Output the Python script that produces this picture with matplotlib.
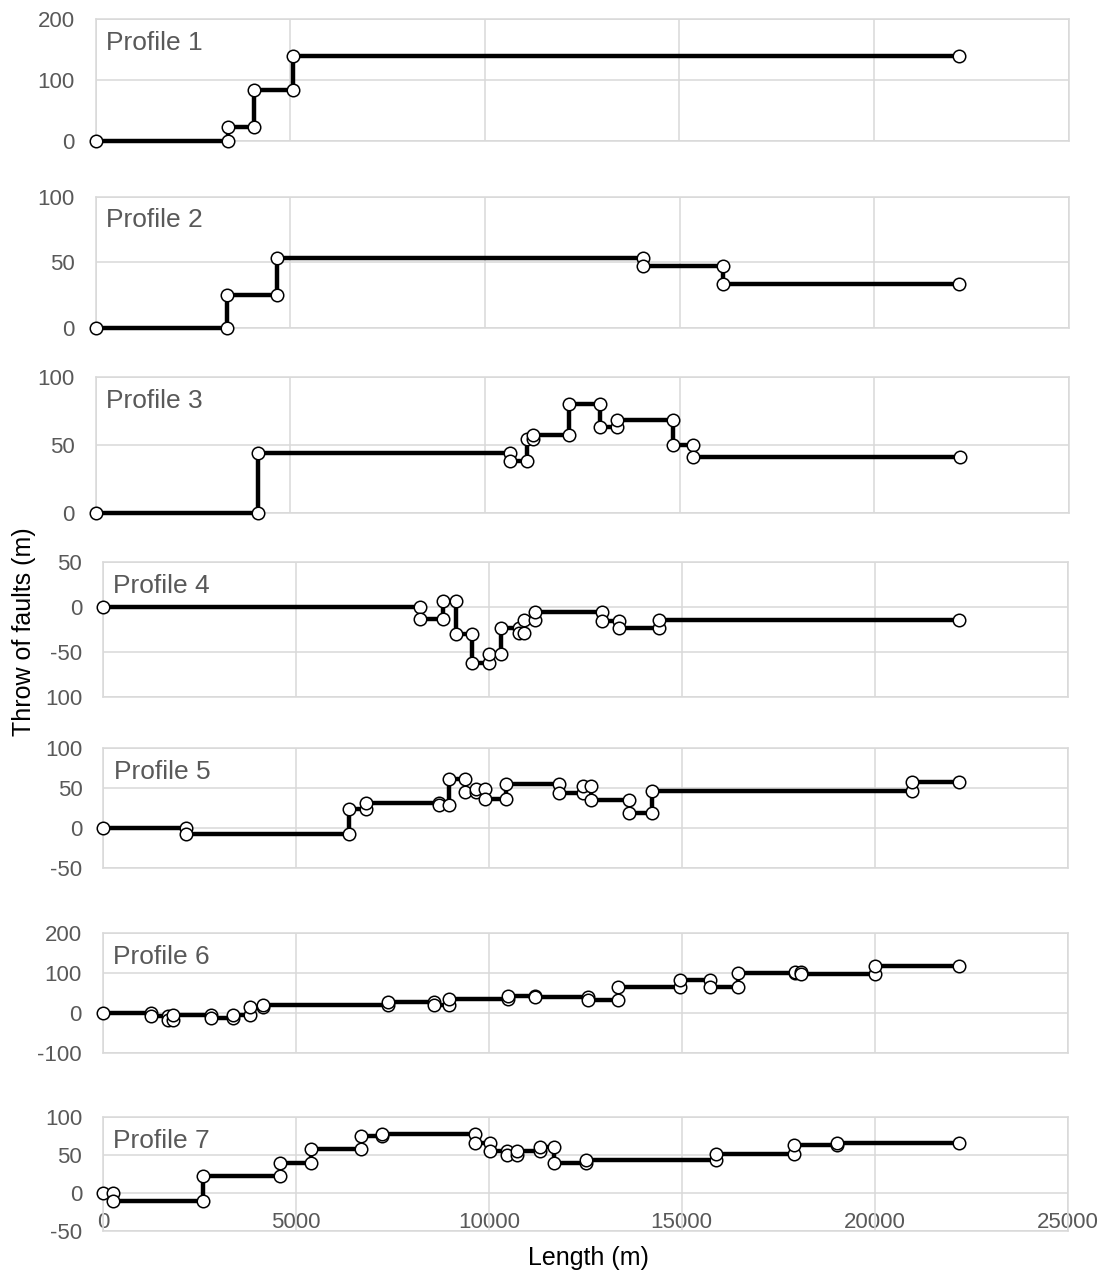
import matplotlib.pyplot as plt

plt.rcParams["font.family"] = ["Liberation Sans", "DejaVu Sans"]

# throw of faults (m) along each profile, a point on both sides of every fault
p1_x = [0, 3400, 3400, 4060, 4060, 5070, 5070, 22190]
p1_y = [0, 0, 23, 23, 84, 84, 139, 139]

p2_x = [0, 3380, 3380, 4650, 4650, 14060, 14060, 16110, 16110, 22190]
p2_y = [0, 0, 25, 25, 53, 53, 47, 47, 33, 33]

p3_x = [0, 4160, 4160, 10640, 10640, 11070, 11070, 11230, 11230, 12150,
        12150, 12960, 12960, 13380, 13380, 14840, 14840, 15350, 15350, 22190]
p3_y = [0, 0, 44, 44, 38, 38, 54, 54, 57, 57,
        80, 80, 63, 63, 68, 68, 50, 50, 41, 41]

p4_x = [0, 8220, 8220, 8800, 8800, 9140, 9140, 9560, 9560, 10010,
        10010, 10320, 10320, 10780, 10780, 10900, 10900, 11180, 11180, 12940,
        12940, 13370, 13370, 14400, 14400, 22180]
p4_y = [0, 0, -14, -14, 6, 6, -30, -30, -62, -62,
        -52, -52, -23, -23, -29, -29, -15, -15, -6, -6,
        -16, -16, -23, -23, -15, -15]

p5_x = [0, 2140, 2140, 6380, 6380, 6820, 6820, 8690, 8690, 8950,
        8950, 9380, 9380, 9660, 9660, 9900, 9900, 10450, 10450, 11820,
        11820, 12420, 12420, 12640, 12640, 13630, 13630, 14210, 14210, 20970,
        20970, 22180]
p5_y = [0, 0, -7, -7, 24, 24, 32, 32, 29, 29,
        62, 62, 45, 45, 49, 49, 37, 37, 56, 56,
        44, 44, 53, 53, 35, 35, 19, 19, 47, 47,
        58, 58]

p6_x = [0, 1250, 1250, 1700, 1700, 1830, 1830, 2800, 2800, 3370,
        3370, 3820, 3820, 4160, 4160, 7390, 7390, 8580, 8580, 8970,
        8970, 10490, 10490, 11190, 11190, 12570, 12570, 13350, 13350, 14960,
        14960, 15740, 15740, 16450, 16450, 17920, 17920, 18080, 18080, 19990,
        19990, 22180]
p6_y = [0, 0, -7, -7, -17, -17, -5, -5, -12, -12,
        -4, -4, 14, 14, 20, 20, 28, 28, 19, 19,
        34, 34, 42, 42, 40, 40, 33, 33, 66, 66,
        82, 82, 66, 66, 99, 99, 101, 101, 98, 98,
        116, 116]

p7_x = [0, 260, 260, 2590, 2590, 4600, 4600, 5390, 5390, 6680,
        6680, 7240, 7240, 9650, 9650, 10020, 10020, 10470, 10470, 10730,
        10730, 11320, 11320, 11700, 11700, 12520, 12520, 15880, 15880, 17900,
        17900, 19030, 19030, 22190]
p7_y = [0, 0, -11, -11, 23, 23, 40, 40, 58, 58,
        75, 75, 78, 78, 66, 66, 56, 56, 50, 50,
        55, 55, 61, 61, 40, 40, 43, 43, 52, 52,
        63, 63, 66, 66]

names = ["Profile 1", "Profile 2", "Profile 3", "Profile 4",
         "Profile 5", "Profile 6", "Profile 7"]
xs = [p1_x, p2_x, p3_x, p4_x, p5_x, p6_x, p7_x]
ys = [p1_y, p2_y, p3_y, p4_y, p5_y, p6_y, p7_y]

ylims = [(0, 200), (0, 100), (0, 100), (-100, 50),
         (-50, 100), (-100, 200), (-50, 100)]
yticks = [[0, 100, 200], [0, 50, 100], [0, 50, 100], [-100, -50, 0, 50],
          [-50, 0, 50, 100], [-100, 0, 100, 200], [-50, 0, 50, 100]]
yticklabels = [["0", "100", "200"], ["0", "50", "100"], ["0", "50", "100"],
               ["100", "-50", "0", "50"], ["-50", "0", "50", "100"],
               ["-100", "0", "100", "200"], ["-50", "0", "50", "100"]]
xticks = [0, 5000, 10000, 15000, 20000, 25000]

# panel boxes in pixels (left, top, right, bottom)
boxes = [(95.8, 19, 1068.6, 140.7),
         (95.8, 196.6, 1068.8, 327.7),
         (95.8, 376.7, 1069, 513),
         (103, 561.7, 1068, 697),
         (103.2, 748.3, 1068, 868.3),
         (102.8, 932.7, 1068, 1053.3),
         (103, 1117.3, 1067.5, 1230.7)]

W, H = 1101, 1272
grey = "#595959"
gridc = "#d9d9d9"

fig = plt.figure(figsize=(W / 100, H / 100), dpi=100)

for i in range(7):
    l, t, r, b = boxes[i]
    ax = fig.add_axes([l / W, 1 - b / H, (r - l) / W, (b - t) / H])

    ax.plot(xs[i], ys[i], color="black", lw=3.2, marker="o", ms=9,
            mfc="white", mec="black", mew=1.1, clip_on=False, zorder=3)

    ax.set_xlim(0, 25000)
    ax.set_ylim(*ylims[i])
    ax.set_xticks(xticks)
    ax.set_yticks(yticks[i], labels=yticklabels[i])
    ax.grid(color=gridc, lw=1.1)
    ax.set_axisbelow(True)
    for s in ax.spines.values():
        s.set_color(gridc)
        s.set_linewidth(1.1)
    ax.tick_params(length=0, labelbottom=False, labelsize=16,
                   labelcolor=grey, pad=15)

    ax.annotate(names[i], xy=(0, 1), xycoords="axes fraction",
                xytext=(7.5, -8.5), textcoords="offset points",
                ha="left", va="top", fontsize=19, color=grey)

    if i == 6:
        # horizontal axis labels sit under the zero line
        lo, hi = ylims[i]
        sec = ax.secondary_xaxis(-lo / (hi - lo))
        sec.set_xticks(xticks)
        sec.tick_params(length=0, labelsize=16, labelcolor=grey, pad=14)
        for s in sec.spines.values():
            s.set_visible(False)

fig.text(24 / W, 1 - 632 / H, "Throw of faults (m)", rotation=90,
         ha="center", va="center", fontsize=18)
fig.text(588 / W, 1 - 1258 / H, "Length (m)", ha="center", va="center",
         fontsize=18)

fig.savefig("out.png", dpi=100)
